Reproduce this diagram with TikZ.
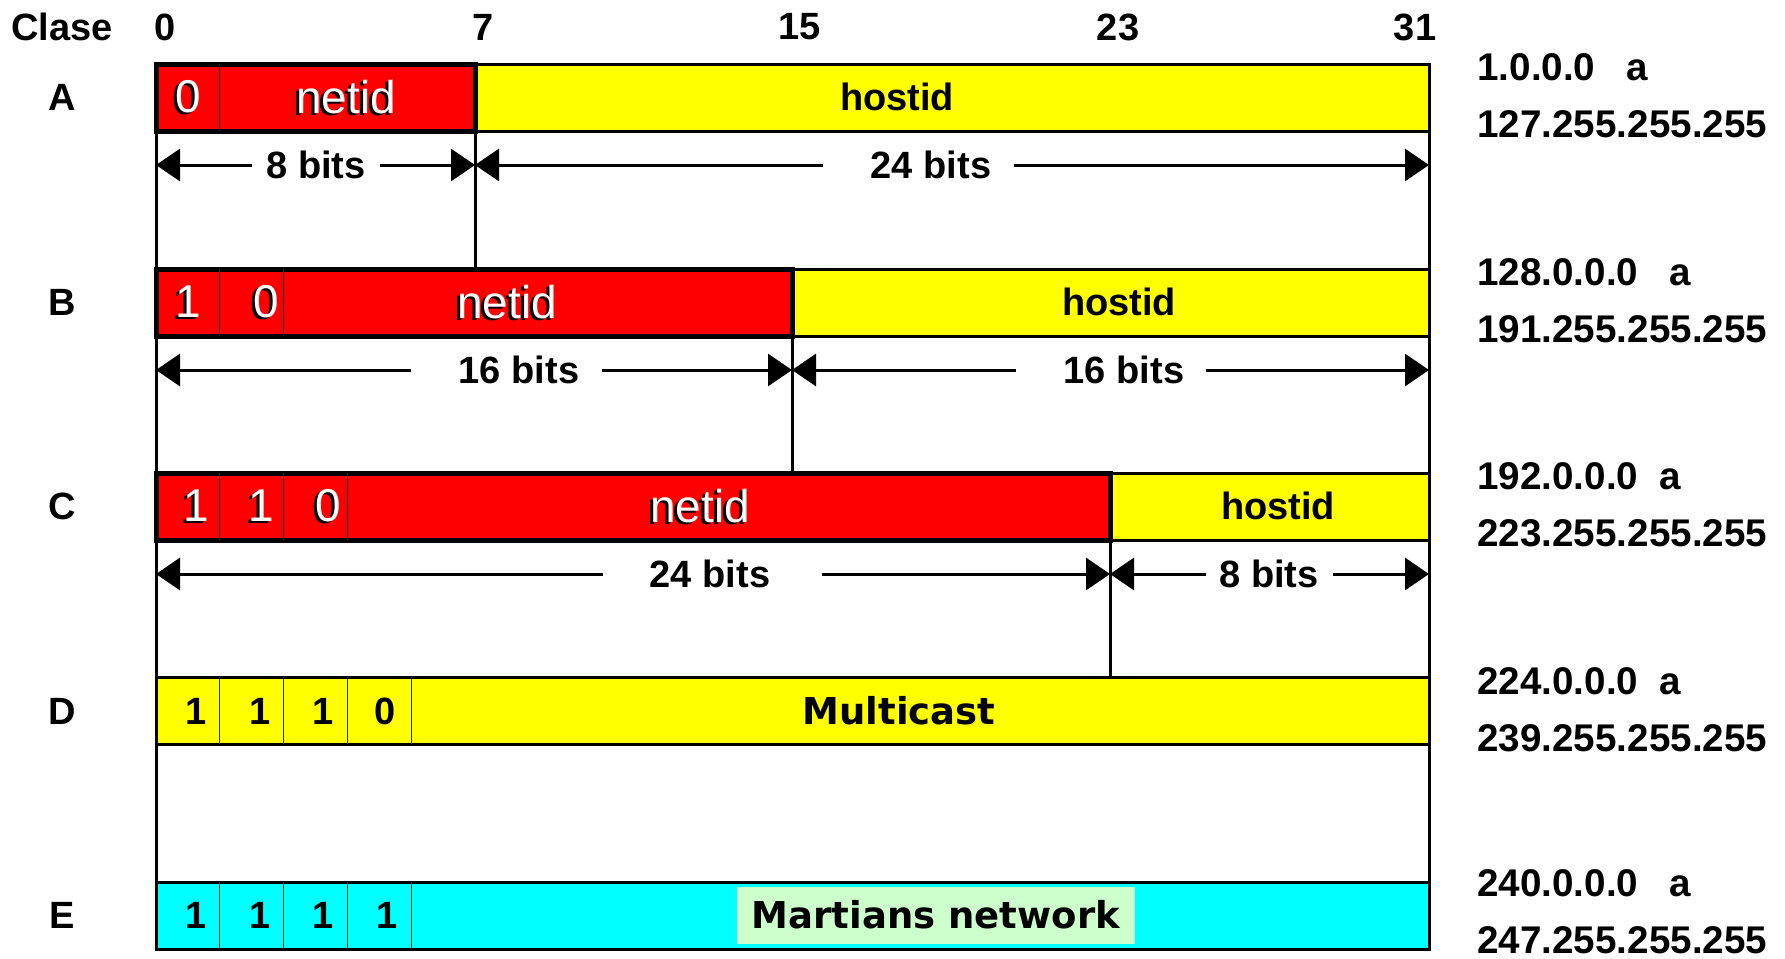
\documentclass[tikz,border=0pt]{standalone}
\usepackage{fontspec}
\setmainfont{Liberation Sans}
\newfontfamily\dejavu{DejaVu Sans}
\usetikzlibrary{arrows.meta,positioning}
\definecolor{martGreen}{RGB}{204,255,204}
\definecolor{netRed}{RGB}{255,0,0}
\definecolor{hostYellow}{RGB}{255,255,0}
\definecolor{martCyan}{RGB}{0,255,255}
% white text with a dark shadow
\newcommand{\whiteLabel}[3]{%
  \node[netFont,text=black,xshift=-1.5pt,yshift=-1pt] (#1s) at (#2) {#3};
  \node[netFont,text=white] (#1) at (#2) {#3};}

\begin{document}
\begin{tikzpicture}[x=0.5pt,y=-0.5pt,every text node part/.style={align=center}]
\tikzset{myFont/.style={font=\fontsize{19}{22}\selectfont\bfseries,inner sep=0pt}}
\tikzset{dvFont/.style={font=\dejavu\fontsize{18.5}{22}\selectfont\bfseries,inner sep=0pt}}
\tikzset{netFont/.style={font=\fontsize{23}{26}\selectfont,inner sep=0pt}}
\tikzset{rangeFont/.style={font=\fontsize{19.3}{28.5}\selectfont\bfseries,inner sep=0pt,anchor=base west}}
\tikzset{netBox/.style={fill=netRed,draw=black,line width=2.5pt}}
\tikzset{hostBox/.style={fill=hostYellow,draw=black,line width=1.5pt}}
\tikzset{cellLine/.style={draw=black!85,line width=0.5pt}}
\tikzset{bitLine/.style={draw=black,line width=1.5pt}}
\tikzset{dimArrow/.style={line width=1.5pt,-{Triangle[length=12pt,width=16pt]}}}

\useasboundingbox (0,0) rectangle (1785,959);

% header and classes
\node[myFont] (clase) at (62,27) {Clase};
\foreach \x/\n in {165/0,483/7,800/15,1118/23,1415/31}
  \node[myFont] (h\n) at (\x,27) {\n};
\foreach \y/\c in {97/A,302/B,506/C,711/D,915/E}
  \node[myFont] (cl\c) at (62,\y) {\c};

% bit boundaries
\draw[bitLine] (156,64) -- (156,949);
\draw[bitLine] (1429,64) -- (1429,949);
\draw[bitLine] (475,131) -- (475,269);
\draw[bitLine] (792,336) -- (792,473);
\draw[bitLine] (1110,540) -- (1110,677);

% class A
\filldraw[hostBox] (475,64) rectangle (1429,131);
\filldraw[netBox] (156,64) rectangle (475,131);
\draw[cellLine] (219.7,64) -- (219.7,131);
\whiteLabel{a0}{188,97}{0}
\whiteLabel{netA}{346,97}{netid}
\node[myFont] (hostA) at (897,97) {hostid};

% class B
\filldraw[hostBox] (792,269) rectangle (1429,336);
\filldraw[netBox] (156,269) rectangle (792,336);
\foreach \x in {219.7,283.5}
  \draw[cellLine] (\x,269) -- (\x,336);
\whiteLabel{b1}{188,302}{1}
\whiteLabel{b2}{266,302}{0}
\whiteLabel{netB}{507,302}{netid}
\node[myFont] (hostB) at (1119,302) {hostid};

% class C
\filldraw[hostBox] (1110,473) rectangle (1429,540);
\filldraw[netBox] (156,473) rectangle (1110,540);
\foreach \x in {219.7,283.5,347.2}
  \draw[cellLine] (\x,473) -- (\x,540);
\whiteLabel{c1}{196,506}{1}
\whiteLabel{c2}{261,506}{1}
\whiteLabel{c3}{328,506}{0}
\whiteLabel{netC}{700,506}{netid}
\node[myFont] (hostC) at (1278,506) {hostid};

% class D
\filldraw[hostBox] (156,677) rectangle (1429,744);
\foreach \x in {219.7,283.5,347.2,411}
  \draw[cellLine] (\x,677) -- (\x,744);
\foreach \x/\d/\n in {196/1/1,260/1/2,323/1/3,385/0/4}
  \node[myFont] (d\n) at (\x,711) {\d};
\node[dvFont] (multi) at (899,711) {Multicast};

% class E
\filldraw[hostBox,fill=martCyan] (156,882) rectangle (1429,949);
\foreach \x in {219.7,283.5,347.2,411}
  \draw[cellLine] (\x,882) -- (\x,949);
\foreach \x/\n in {196/1,260/2,323/3,387/4}
  \node[myFont] (e\n) at (\x,915) {1};
\node[dvFont,fill=martGreen,minimum width=199pt,minimum height=28.5pt] (mart) at (936,915) {Martians network};

% field widths
\coordinate (A0) at (156,165);
\coordinate (A7) at (475,165);
\coordinate (A31) at (1429,165);
\coordinate (B0) at (156,370);
\coordinate (B15) at (792,370);
\coordinate (B31) at (1429,370);
\coordinate (C0) at (156,574);
\coordinate (C23) at (1110,574);
\coordinate (C31) at (1429,574);

\node[myFont] (a8) at (316,165) {8 bits};
\node[myFont] (a24) at (931,165) {24 bits};
\node[myFont] (b16a) at (519,370) {16 bits};
\node[myFont] (b16b) at (1124,370) {16 bits};
\node[myFont] (c24) at (710,574) {24 bits};
\node[myFont] (c8) at (1269,574) {8 bits};

\draw[dimArrow,shorten <=7pt] (a8.west) -- (A0);
\draw[dimArrow,shorten <=7pt] (a8.east) -- (A7);
\draw[dimArrow,shorten <=23.5pt] (a24.west) -- (A7);
\draw[dimArrow,shorten <=11pt] (a24.east) -- (A31);
\draw[dimArrow,shorten <=23.5pt] (b16a.west) -- (B0);
\draw[dimArrow,shorten <=11pt] (b16a.east) -- (B15);
\draw[dimArrow,shorten <=23.5pt] (b16b.west) -- (B15);
\draw[dimArrow,shorten <=10.5pt] (b16b.east) -- (B31);
\draw[dimArrow,shorten <=23pt] (c24.west) -- (C0);
\draw[dimArrow,shorten <=25.5pt] (c24.east) -- (C23);
\draw[dimArrow,shorten <=6.5pt] (c8.west) -- (C23);
\draw[dimArrow,shorten <=7pt] (c8.east) -- (C31);

% address ranges, two lines each
\foreach \y/\c/\lo/\hi/\sp in {80/A/1.0.0.0/127.255.255.255/0.8em,
    285/B/128.0.0.0/191.255.255.255/0.8em,
    489/C/192.0.0.0/223.255.255.255/0.55em,
    694/D/224.0.0.0/239.255.255.255/0.55em,
    896/E/240.0.0.0/247.255.255.255/0.8em} {
  \node[rangeFont] (lo\c) at (1477,\y) {\lo\hspace{\sp}a};
  \node[rangeFont,below=28.5pt of lo\c.base west,anchor=base west] (hi\c) {\hi};
}
\end{tikzpicture}
\end{document}
